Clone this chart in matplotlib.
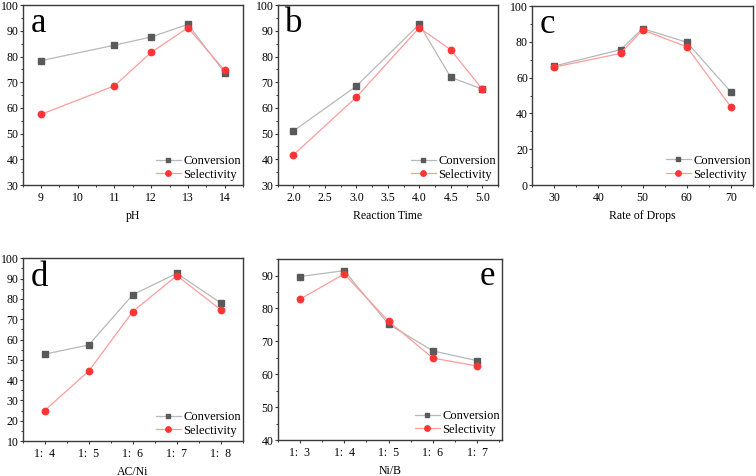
import matplotlib
matplotlib.use("Agg")
import matplotlib.pyplot as plt
from matplotlib.ticker import MultipleLocator, FormatStrFormatter

plt.rcParams['font.family'] = ['Liberation Serif', 'DejaVu Serif']

# ---- data ----
ph = [9, 11, 12, 13, 14]
ph_conv = [78.4, 84.4, 87.6, 92.5, 73.7]
ph_sel = [57.5, 68.6, 81.6, 91.2, 74.6]

time = [2.0, 3.0, 4.0, 4.5, 5.0]
time_conv = [51.0, 68.5, 92.5, 71.9, 67.3]
time_sel = [41.7, 64.2, 91.2, 82.6, 67.3]

drops = [30, 45, 50, 60, 70]
drops_conv = [66.5, 75.6, 87.4, 79.8, 52.0]
drops_sel = [65.9, 73.5, 86.7, 77.2, 43.6]

acni_labels = ["1:  4", "1:  5", "1:  6", "1:  7", "1:  8"]
acni_conv = [52.8, 57.3, 82.1, 92.6, 77.9]
acni_sel = [25.0, 44.5, 73.8, 91.5, 74.6]

nib_labels = ["1:  3", "1:  4", "1:  5", "1:  6", "1:  7"]
nib_conv = [89.7, 91.5, 75.2, 67.1, 64.1]
nib_sel = [82.8, 90.5, 76.1, 64.9, 62.5]

CONV_LINE = '#b8b8b8'
CONV_MARK = '#5a5a5a'
SEL_LINE = '#ff9c9c'
SEL_MARK = '#ff3535'
SPINE = '#3a3a3a'
FS = 8.5

fig = plt.figure(figsize=(7.56, 4.76), dpi=100)

def make_ax(rect):
    ax = fig.add_axes(rect)
    for s in ax.spines.values():
        s.set_color(SPINE)
        s.set_linewidth(1.0)
    ax.tick_params(which='major', direction='out', length=2.5, width=0.8,
                   color=SPINE, labelsize=FS)
    ax.tick_params(which='minor', direction='out', length=1.5, width=0.7,
                   color=SPINE)
    ax.tick_params(axis='y', which='major', pad=0.6)
    ax.tick_params(axis='x', which='major', pad=2.5)
    return ax

def draw(ax, x, conv, sel):
    ax.plot(x, conv, '-', color=CONV_LINE, lw=0.9, marker='s', ms=4.2,
            mfc=CONV_MARK, mec=CONV_MARK, label='Conversion')
    ax.plot(x, sel, '-', color=SEL_LINE, lw=0.9, marker='o', ms=4.6,
            mfc=SEL_MARK, mec=SEL_MARK, label='Selectivity')
    ax.legend(loc='lower right', bbox_to_anchor=(1.03, -0.025), frameon=False,
              fontsize=9, handlelength=2.0, handletextpad=0.2,
              labelspacing=0.15, borderpad=0.2, markerscale=0.85)

def letter(ax, s, x=0.035, y=0.85, ha='left'):
    ax.text(x, y, s, transform=ax.transAxes, fontsize=25, ha=ha, va='baseline')

# a
ax = make_ax([0.030, 0.6113, 0.2914, 0.378])
draw(ax, ph, ph_conv, ph_sel)
ax.set_xlim(8.5, 14.5)
ax.set_ylim(30, 100)
ax.xaxis.set_major_locator(MultipleLocator(1))
ax.xaxis.set_minor_locator(MultipleLocator(0.5))
ax.yaxis.set_major_locator(MultipleLocator(10))
ax.yaxis.set_minor_locator(MultipleLocator(5))
ax.set_xlabel('pH', fontsize=FS)
letter(ax, 'a')

# b
ax = make_ax([0.3673, 0.6113, 0.2914, 0.378])
draw(ax, time, time_conv, time_sel)
ax.set_xlim(1.75, 5.25)
ax.set_ylim(30, 100)
ax.xaxis.set_major_locator(MultipleLocator(0.5))
ax.xaxis.set_minor_locator(MultipleLocator(0.25))
ax.xaxis.set_major_formatter(FormatStrFormatter('%.1f'))
ax.yaxis.set_major_locator(MultipleLocator(10))
ax.yaxis.set_minor_locator(MultipleLocator(5))
ax.set_xlabel('Reaction Time', fontsize=FS)
letter(ax, 'b')

# c
ax = make_ax([0.704, 0.6113, 0.292, 0.376])
draw(ax, drops, drops_conv, drops_sel)
ax.set_xlim(25, 75)
ax.set_ylim(0, 100)
ax.xaxis.set_major_locator(MultipleLocator(10))
ax.xaxis.set_minor_locator(MultipleLocator(5))
ax.yaxis.set_major_locator(MultipleLocator(20))
ax.yaxis.set_minor_locator(MultipleLocator(10))
ax.set_xlabel('Rate of Drops', fontsize=FS)
letter(ax, 'c')

# d
ax = make_ax([0.030, 0.0735, 0.2914, 0.3838])
xd = list(range(len(acni_labels)))
draw(ax, xd, acni_conv, acni_sel)
ax.set_xlim(-0.5, 4.5)
ax.set_ylim(10, 100)
ax.set_xticks(xd)
ax.set_xticklabels(acni_labels)
ax.xaxis.set_minor_locator(MultipleLocator(0.5))
ax.yaxis.set_major_locator(MultipleLocator(10))
ax.yaxis.set_minor_locator(MultipleLocator(5))
ax.set_xlabel('AC/Ni', fontsize=FS)
letter(ax, 'd')

# e
ax = make_ax([0.3673, 0.0756, 0.2963, 0.38])
xe = list(range(len(nib_labels)))
draw(ax, xe, nib_conv, nib_sel)
ax.set_xlim(-0.5, 4.55)
ax.set_ylim(40, 95)
ax.set_xticks(xe)
ax.set_xticklabels(nib_labels)
ax.xaxis.set_minor_locator(MultipleLocator(0.5))
ax.yaxis.set_major_locator(MultipleLocator(10))
ax.yaxis.set_minor_locator(MultipleLocator(5))
ax.set_xlabel('Ni/B', fontsize=FS)
letter(ax, 'e', x=0.97, y=0.858, ha='right')

fig.savefig('out.png', dpi=100)
